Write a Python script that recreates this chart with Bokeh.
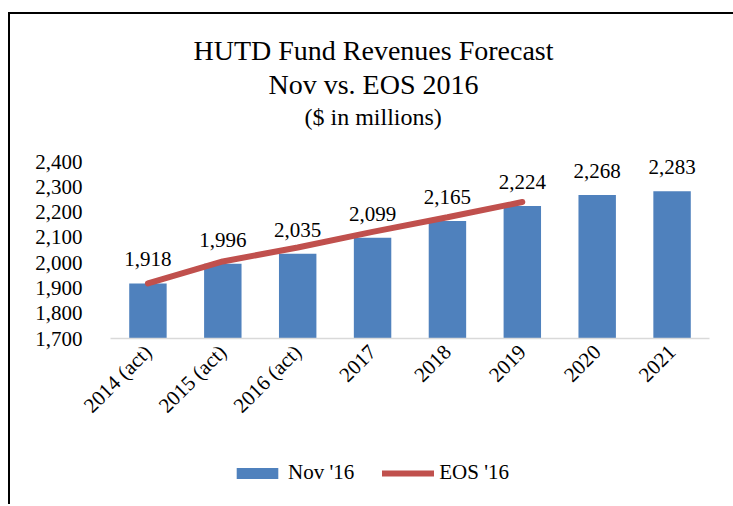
from math import pi
from bokeh.plotting import figure
from bokeh.layouts import column
from bokeh.models import (ColumnDataSource, FixedTicker, NumeralTickFormatter, Title,
                          Legend, LegendItem, FactorRange)
from bokeh.core.properties import value
from bokeh.embed import file_html
from bokeh.resources import INLINE

categories = ["2014 (act)", "2015 (act)", "2016 (act)", "2017", "2018", "2019", "2020", "2021"]
nov16 = [1918, 1996, 2035, 2099, 2165, 2224, 2268, 2283]
eos_categories = ["2014 (act)", "2015 (act)", "2016 (act)", "2017", "2018", "2019"]
eos16 = [1918, 2005, 2060, 2122, 2180, 2240]
y_ticks = [1700, 1800, 1900, 2000, 2100, 2200, 2300, 2400]

FONT = "Liberation Serif"
BLUE = "#4f81bd"
RED = "#c0504d"

bar_src = ColumnDataSource(dict(x=categories, top=nov16,
                                label=[f"{v:,}" for v in nov16]))
line_src = ColumnDataSource(dict(x=eos_categories, y=eos16))

p = figure(width=723, height=424, x_range=FactorRange(*categories), y_range=(1700, 2440),
           output_backend="svg", toolbar_location=None,
           min_border_left=100, min_border_right=24, min_border_top=137, min_border_bottom=100)

bars = p.vbar(x="x", top="top", bottom=1700, width=0.5, source=bar_src,
              fill_color=BLUE, line_color=None)
line = p.line(x="x", y="y", source=line_src, line_color=RED, line_width=6, line_cap="round")
p.text(x="x", y="top", text="label", source=bar_src, text_align="center",
       text_baseline="middle", y_offset=-24, text_font=value(FONT),
       text_font_size="21px", text_color="#000000")

p.xgrid.visible = False
p.ygrid.visible = False
p.outline_line_color = None
p.background_fill_color = "white"
p.border_fill_color = "white"

p.yaxis.ticker = FixedTicker(ticks=y_ticks)
p.yaxis.formatter = NumeralTickFormatter(format="0,0")
p.yaxis.axis_line_color = None
p.yaxis.major_tick_line_color = None
p.yaxis.major_tick_out = 0
p.yaxis.minor_tick_line_color = None
p.yaxis.major_label_standoff = 28
p.yaxis.major_label_text_font = FONT
p.yaxis.major_label_text_font_size = "21px"
p.yaxis.major_label_text_color = "#000000"

p.xaxis.axis_line_color = "#d9d9d9"
p.xaxis.axis_line_width = 1.5
p.xaxis.major_tick_line_color = None
p.xaxis.major_tick_out = 0
p.xaxis.minor_tick_line_color = None
p.xaxis.major_label_orientation = pi / 4
p.xaxis.major_label_standoff = 10
p.xaxis.major_label_text_font = FONT
p.xaxis.major_label_text_font_size = "21px"
p.xaxis.major_label_text_color = "#000000"

# blank title used only as a gap between the frame and the title lines
p.add_layout(Title(text=" ", text_font_size="1px", standoff=18), "above")

titles = [("($ in millions)", "24px", 194, 2),
          ("Nov vs. EOS 2016", "28px", 158, 2),
          ("HUTD Fund Revenues Forecast", "28px", 83, 0)]
for txt, size, off, so in titles:
    p.add_layout(Title(text=txt, align="left", offset=off, text_font=FONT,
                       text_font_size=size, text_font_style="normal",
                       text_color="#000000", standoff=so), "above")

# legend strip under the chart (hidden copies of the two series supply the glyphs)
lg = figure(width=723, height=66, x_range=FactorRange(*categories), y_range=(1700, 2440),
            output_backend="svg", toolbar_location=None, min_border=0,
            x_axis_location=None, y_axis_location=None)
lg.grid.visible = False
lg.outline_line_color = None
lg.background_fill_color = "white"
lg.border_fill_color = "white"
lg_bar = lg.vbar(x="x", top="top", bottom=1700, width=0.5, source=bar_src,
                 fill_color=BLUE, line_color=None, visible=False)
lg_line = lg.line(x="x", y="y", source=line_src, line_color=RED, line_width=6,
                  line_cap="round", visible=False)
legend = Legend(items=[LegendItem(label="Nov '16", renderers=[lg_bar]),
                       LegendItem(label="EOS '16", renderers=[lg_line])],
                orientation="horizontal", location=(121, 19), padding=0, margin=0,
                spacing=28, glyph_width=52, glyph_height=14, label_standoff=5,
                label_text_font=FONT, label_text_font_size="21px",
                label_text_color="#000000", border_line_color=None,
                background_fill_alpha=0, inactive_fill_alpha=0)
lg.add_layout(legend)

page = column(p, lg, spacing=0)
page.styles = {"border-left": "2px solid #000", "border-top": "2px solid #000",
               "margin-left": "8px", "margin-top": "12px"}

open("out.html", "w").write(file_html(page, INLINE))
